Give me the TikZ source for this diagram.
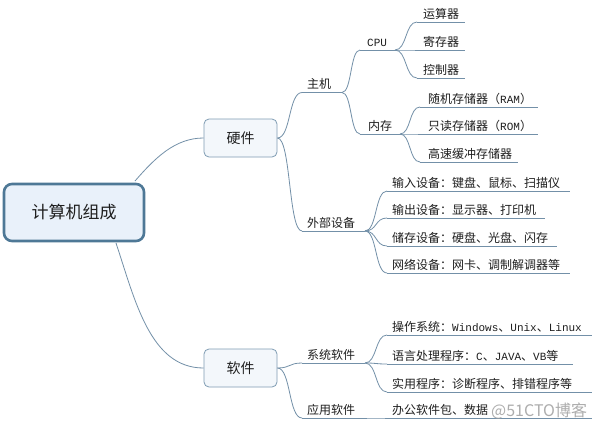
\documentclass[tikz,border=0pt]{standalone}
\usepackage{fontspec}
\usetikzlibrary{calc}
\newfontfamily\cjk{Noto Sans CJK SC}
\newfontfamily\mono{Liberation Mono}
\definecolor{linec}{HTML}{7390A8}
\definecolor{rootfill}{HTML}{E9F1FA}
\definecolor{rootdraw}{HTML}{4E7896}
\definecolor{boxfill}{HTML}{F3F7FB}
\definecolor{boxdraw}{HTML}{7F9CB3}
\definecolor{txt}{HTML}{1E1E1E}
\tikzset{
  uline/.style={draw=linec, line width=0.8pt},
  conn/.style={draw=linec, line width=0.8pt},
  lbl/.style={anchor=base west, inner sep=0pt, text=txt, font=\cjk\fontsize{12}{14}\selectfont},
  rootbox/.style={draw=rootdraw, fill=rootfill, line width=2.6pt, rounded corners=8pt,
    minimum width=140pt, minimum height=57pt, text=txt, font=\cjk\fontsize{17}{20}\selectfont},
  mainbox/.style={draw=boxdraw, fill=boxfill, line width=0.8pt, rounded corners=5pt,
    minimum width=73pt, minimum height=38pt, text=txt, font=\cjk\fontsize{14}{16}\selectfont},
  mark/.style={}
}
\newcommand\subtopic[6]{%
  \coordinate (#1-l) at (#2,#4);
  \coordinate (#1-r) at (#3,#4);
  \draw[uline] (#1-l) -- (#1-r);
  \node[lbl] (#1) at (#5,#4-4) {#6};
}
\newcommand\branch[2]{%
  \draw[conn] let \p1=(#1), \p2=(#2), \n1={(\x2-\x1)*0.55} in
    (\p1) .. controls +(\n1,0) and +(-\n1,0) .. (\p2);
}
\newcommand\ml[1]{{\mono\fontsize{11}{14}\selectfont #1}}
\begin{document}
\begin{tikzpicture}[x=1pt,y=-1pt]
\useasboundingbox[fill=white] (0,0) rectangle (598,426);

% root and main boxes
\node[rootbox] (root) at (74,212.5) {计算机组成};
\node[mainbox] (hw) at (240.5,138) {硬件};
\node[mainbox] (sw) at (240.5,368) {软件};

\coordinate (rootT) at (135,181);
\coordinate (rootB) at (116,243);
\draw[conn] (rootT) .. controls (155,158) and (175,138) .. (hw.west);
\draw[conn] (rootB) .. controls (135,300) and (150,368) .. (sw.west);

% level 2
\subtopic{zj}{302}{342}{92.5}{307}{主机}
\subtopic{wb}{302}{365}{231}{307}{外部设备}
\subtopic{xt}{302}{365}{363}{307}{系统软件}
\subtopic{yy}{302}{365}{418}{307}{应用软件}

\coordinate (hwR) at (hw.east);
\coordinate (swR) at (sw.east);
\branch{hwR}{zj-l}
\branch{hwR}{wb-l}
\branch{swR}{xt-l}
\branch{swR}{yy-l}

% level 3 under 主机
\subtopic{cpu}{360}{395}{50}{367}{\ml{CPU}}
\subtopic{nc}{360}{400}{134}{368}{内存}
\branch{zj-r}{cpu-l}
\branch{zj-r}{nc-l}

% level 4 under CPU
\subtopic{ys}{417}{465}{22}{423}{运算器}
\subtopic{jc}{417}{465}{50}{423}{寄存器}
\subtopic{kz}{417}{465}{78}{423}{控制器}
\branch{cpu-r}{ys-l}
\branch{cpu-r}{jc-l}
\branch{cpu-r}{kz-l}

% level 4 under 内存
\subtopic{ram}{420}{538}{107}{428}{随机存储器（\ml{RAM}）}
\subtopic{rom}{420}{538}{134}{428}{只读存储器（\ml{ROM}）}
\subtopic{gs}{420}{518}{162}{428}{高速缓冲存储器}
\branch{nc-r}{ram-l}
\branch{nc-r}{rom-l}
\branch{nc-r}{gs-l}

% level 3 under 外部设备
\subtopic{sr}{387}{570}{191}{392}{输入设备：键盘、鼠标、扫描仪}
\subtopic{sc}{387}{545}{218}{392}{输出设备：显示器、打印机}
\subtopic{cc}{387}{557}{246}{392}{储存设备：硬盘、光盘、闪存}
\subtopic{wl}{387}{570}{273}{392}{网络设备：网卡、调制解调器等}
\branch{wb-r}{sr-l}
\branch{wb-r}{sc-l}
\branch{wb-r}{cc-l}
\branch{wb-r}{wl-l}

% level 3 under 系统软件
\subtopic{cz}{387}{592}{335}{392}{操作系统：\ml{Windows}、\ml{Unix}、\ml{Linux}}
\subtopic{yc}{387}{573}{364}{392}{语言处理程序：\ml{C}、\ml{JAVA}、\ml{VB}等}
\subtopic{sy}{387}{592}{392}{392}{实用程序：诊断程序、排错程序等}
\branch{xt-r}{cz-l}
\branch{xt-r}{yc-l}
\branch{xt-r}{sy-l}

% under 应用软件
\subtopic{bg}{387}{592}{418}{392}{办公软件包、数据}
\branch{yy-r}{bg-l}

% watermark
\node[anchor=base west, inner sep=0pt, text=gray!75, opacity=0.85,
  font=\cjk\fontsize{16}{18}\selectfont] (wm) at (491,416) {@51CTO博客};
\end{tikzpicture}
\end{document}
